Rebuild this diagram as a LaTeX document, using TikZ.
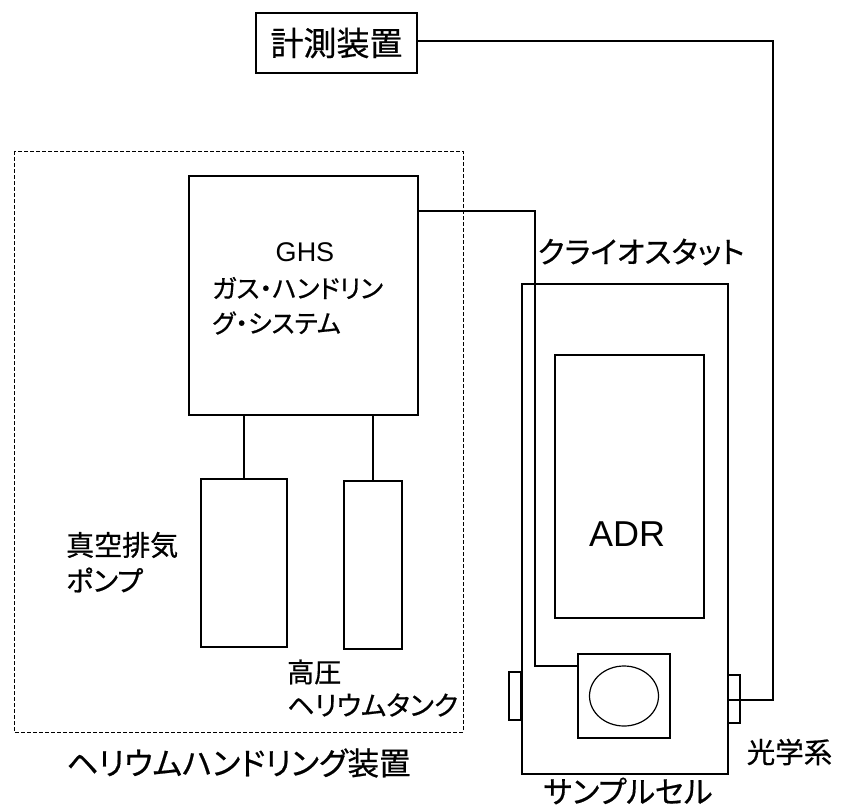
\documentclass[tikz,border=0pt]{standalone}
\usepackage{fontspec}
\setmainfont{Noto Sans CJK JP}[RawFeature=+palt,FakeBold=0.6]
\newfontfamily\lat{Liberation Sans}
\begin{document}
\begin{tikzpicture}[x=1pt,y=-1pt,
  box/.style={draw,line width=1.2pt,fill=white},
  conn/.style={draw,line width=1.2pt},
  lbl/.style={inner sep=0pt,font=\fontsize{27}{32}\selectfont}]
\useasboundingbox (0,0) rectangle (843,808);
% dashed group
\draw[line width=1pt,dash pattern=on 4pt off 2pt] (14,151) rectangle (463,732);
% measurement device
\node[box,minimum width=161pt,minimum height=60pt,inner sep=0pt,font=\fontsize{33}{38}\selectfont] (meas) at (336.5,43) {計測装置};
% GHS
\node[box,minimum width=229pt,minimum height=239pt,inner sep=0pt] (ghs) at (303.5,295.5) {};
\node[inner sep=0pt,font=\lat\fontsize{27}{32}\selectfont] (ghst) at (305,252) {GHS};
\node[lbl,anchor=west,font=\fontsize{25.5}{30}\selectfont] (ghs2) at (212,288) {ガス・ハンドリン};
\node[lbl,anchor=west,font=\fontsize{25.5}{30}\selectfont] (ghs3) at (212,323) {グ・システム};
% pump and tank
\node[box,minimum width=86pt,minimum height=168pt,inner sep=0pt] (pump) at (244,563) {};
\node[box,minimum width=58pt,minimum height=168pt,inner sep=0pt] (tank) at (373,565) {};
\draw[conn] (ghs.south -| pump.north) -- (pump.north);
\draw[conn] (ghs.south -| tank.north) -- (tank.north);
\node[lbl,anchor=west,font=\fontsize{28}{33}\selectfont] (pumpl1) at (66,545) {真空排気};
\node[lbl,anchor=west,font=\fontsize{28}{33}\selectfont] (pumpl2) at (66,580) {ポンプ};
\node[lbl,anchor=west] (tankl1) at (287,672) {高圧};
\node[lbl,anchor=west] (tankl2) at (287,705) {ヘリウムタンク};
\node[lbl,font=\fontsize{31.5}{36}\selectfont] (hel) at (238.5,763) {ヘリウムハンドリング装置};
% cryostat
\node[box,minimum width=206pt,minimum height=490pt,inner sep=0pt] (cryo) at (625,529) {};
\node[lbl,font=\fontsize{30}{35}\selectfont] (cryol) at (641,252) {クライオスタット};
\node[box,minimum width=149pt,minimum height=263pt,inner sep=0pt] (adr) at (629.5,486.5) {};
\node[inner sep=0pt,font=\lat\fontsize{36}{42}\selectfont] (adrt) at (627,534) {ADR};
% ports
\node[box,minimum width=12pt,minimum height=48pt,inner sep=0pt] (lport) at (515,696) {};
\node[box,minimum width=12pt,minimum height=48pt,inner sep=0pt] (rport) at (734,699) {};
% sample cell
\node[box,minimum width=92pt,minimum height=84pt,inner sep=0pt] (cell) at (624,696) {};
\draw[conn] (624,696) ellipse [x radius=34.5pt,y radius=30pt];
\node[lbl,font=\fontsize{30.5}{35}\selectfont] (celll) at (628,791) {サンプルセル};
\node[lbl,font=\fontsize{28.5}{33}\selectfont] (optl) at (789.5,752) {光学系};
% connectors
\coordinate (c1) at (773,41);
\coordinate (c2) at (773,700);
\draw[conn] (meas.east |- c1) -- (c1) -- (c2) -- (cryo.east |- c2);
\coordinate (g1) at (535,211);
\coordinate (g2) at (535,666);
\draw[conn] (ghs.east |- g1) -- (g1) -- (g2) -- (cell.west |- g2);
\end{tikzpicture}
\end{document}
